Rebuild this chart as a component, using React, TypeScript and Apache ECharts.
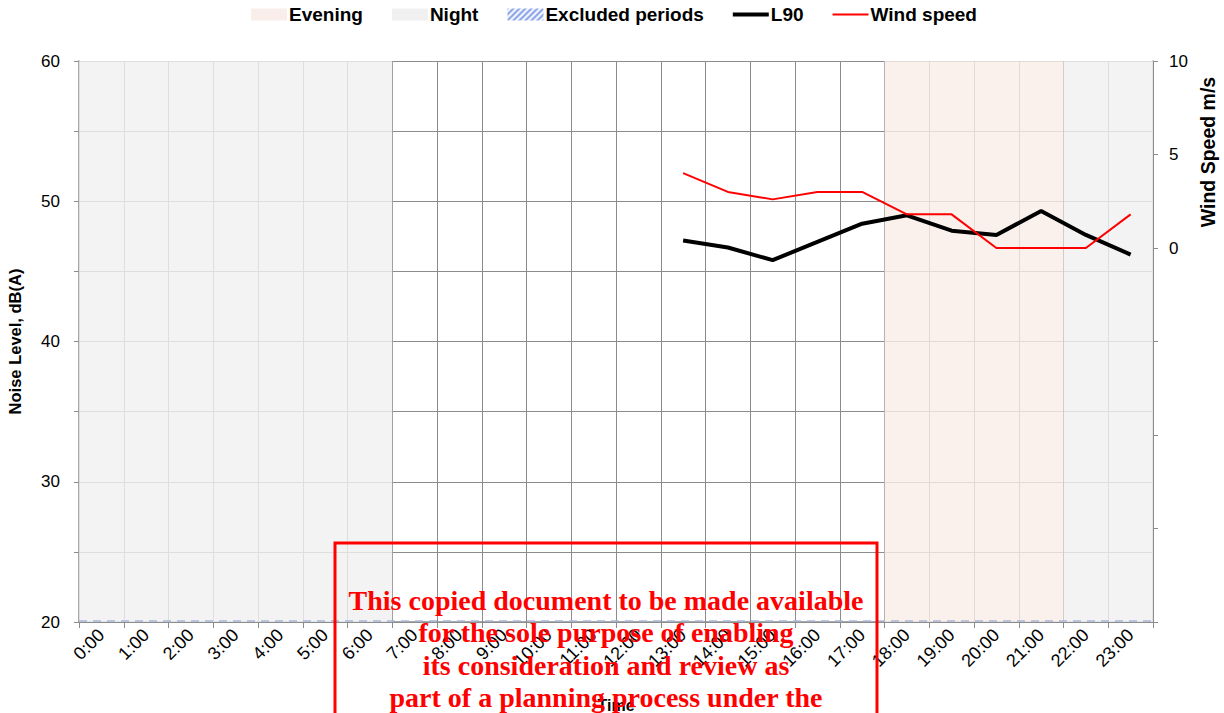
import React, { useEffect, useRef } from "react";
import * as echarts from "echarts";

const hours = [
  "0:00", "1:00", "2:00", "3:00", "4:00", "5:00", "6:00", "7:00", "8:00", "9:00", "10:00", "11:00",
  "12:00", "13:00", "14:00", "15:00", "16:00", "17:00", "18:00", "19:00", "20:00", "21:00", "22:00", "23:00",
];
const l90 = [
  null, null, null, null, null, null, null, null, null, null, null, null,
  null, 47.2, 46.7, 45.8, 47.1, 48.4, 49.0, 47.9, 47.6, 49.3, 47.6, 46.2,
];
const windSpeed = [
  null, null, null, null, null, null, null, null, null, null, null, null,
  null, 4.0, 3.0, 2.6, 3.0, 3.0, 1.8, 1.8, 0, 0, 0, 1.8,
];
const nightPeriods = [[0, 7], [22, 24]];
const eveningPeriods = [[18, 22]];
const leftTicks = [20, 30, 40, 50, 60];
const rightTicks = [0, 5, 10];
const watermarkLines = [
  "This copied document to be made available",
  "for the sole purpose of enabling",
  "its consideration and review as",
  "part of a planning process under the",
];

function makeHatch(): any {
  const c = document.createElement("canvas");
  c.width = 6;
  c.height = 6;
  const ctx = c.getContext("2d");
  if (ctx) {
    ctx.fillStyle = "#ffffff";
    ctx.fillRect(0, 0, 6, 6);
    ctx.strokeStyle = "#7f9be6";
    ctx.lineWidth = 2;
    ctx.beginPath();
    ctx.moveTo(-1, 7);
    ctx.lineTo(7, -1);
    ctx.moveTo(-4, 4);
    ctx.lineTo(4, -4);
    ctx.moveTo(2, 10);
    ctx.lineTo(10, 2);
    ctx.stroke();
  }
  return { image: c, repeat: "repeat" };
}

const thickLineIcon = "path://M0,0h36v0.01h-36z M0,4h36v4h-36z M0,12h36v0.01h-36z";
const thinLineIcon = "path://M0,0h36v0.01h-36z M0,5h36v2h-36z M0,12h36v0.01h-36z";

export default function App() {
  const ref = useRef<HTMLDivElement>(null);
  useEffect(() => {
    if (!ref.current) return;
    const chart = echarts.init(ref.current, undefined, { renderer: "svg" });
    const axisGray = "#8c8c8c";
    const font = "Liberation Sans, Arial, sans-serif";
    const option: any = {
      animation: false,
      backgroundColor: "#ffffff",
      textStyle: { fontFamily: font },
      legend: {
        top: 5,
        left: 251,
        padding: 0,
        itemGap: 29,
        itemWidth: 36,
        itemHeight: 12,
        textStyle: { fontSize: 19, fontWeight: "bold", color: "#000", fontFamily: font, padding: [0, 0, 0, -3] },
        data: [
          { name: "Evening", icon: "rect" },
          { name: "Night", icon: "rect" },
          { name: "Excluded periods", icon: "rect" },
          { name: "L90", icon: thickLineIcon },
          { name: "Wind speed", icon: thinLineIcon },
        ],
      },
      grid: { left: 79, right: 71, top: 61, bottom: 91, outerBoundsMode: "none", containLabel: false },
      xAxis: [
        {
          type: "category",
          data: hours,
          boundaryGap: true,
          name: "Time",
          nameLocation: "middle",
          nameGap: 75,
          nameTextStyle: { fontSize: 16, fontWeight: "bold", color: "#000" },
          axisLine: { onZero: false, lineStyle: { color: axisGray, width: 1.5 } },
          axisTick: { show: true, length: 6, alignWithLabel: false, lineStyle: { color: axisGray } },
          axisLabel: { rotate: 45, fontSize: 18, color: "#000", margin: 10, interval: 0 },
          splitLine: { show: true, interval: 0, lineStyle: { color: axisGray, width: 1 } },
        },
        { type: "value", min: 0, max: 24, show: false, axisLine: { onZero: false } },
      ],
      yAxis: [
        {
          type: "value",
          min: 20,
          max: 60,
          interval: 5,
          name: "Noise Level, dB(A)",
          nameLocation: "middle",
          nameGap: 56,
          nameRotate: 90,
          nameTextStyle: { fontSize: 16.5, fontWeight: "bold", color: "#000" },
          axisLine: { show: true, onZero: false, lineStyle: { color: axisGray, width: 1.5 } },
          axisTick: { show: true, length: 5, lineStyle: { color: axisGray } },
          axisLabel: {
            fontSize: 17,
            color: "#000",
            margin: 19,
            formatter: (v: number) => (leftTicks.includes(v) ? String(v) : ""),
          },
          splitLine: { show: true, lineStyle: { color: axisGray, width: 1 } },
        },
        {
          type: "value",
          min: -20,
          max: 10,
          interval: 5,
          position: "right",
          axisLine: { show: true, onZero: false, lineStyle: { color: axisGray, width: 1.5 } },
          axisTick: { show: true, length: 5, lineStyle: { color: axisGray } },
          axisLabel: {
            fontSize: 17,
            color: "#000",
            margin: 16,
            formatter: (v: number) => (rightTicks.includes(v) ? String(v) : ""),
          },
          splitLine: { show: false },
        },
      ],
      series: [
        {
          name: "Evening",
          type: "bar",
          xAxisIndex: 1,
          yAxisIndex: 0,
          data: [],
          z: 1,
          itemStyle: { color: "#f9eee9" },
          markArea: {
            silent: true,
            label: { show: false },
            itemStyle: { color: "rgba(249,237,231,0.8)" },
            data: eveningPeriods.map((p) => [{ xAxis: p[0] }, { xAxis: p[1] }]),
          },
        },
        {
          name: "Night",
          type: "bar",
          xAxisIndex: 1,
          yAxisIndex: 0,
          data: [],
          z: 1,
          itemStyle: { color: "#f0f0f0" },
          markArea: {
            silent: true,
            label: { show: false },
            itemStyle: { color: "rgba(240,240,240,0.82)" },
            data: nightPeriods.map((p) => [{ xAxis: p[0] }, { xAxis: p[1] }]),
          },
        },
        {
          name: "Excluded periods",
          type: "bar",
          xAxisIndex: 1,
          yAxisIndex: 0,
          data: [],
          z: 2,
          itemStyle: { color: makeHatch() },
          markLine: {
            silent: true,
            symbol: "none",
            label: { show: false },
            lineStyle: { color: "#a9b6d9", type: [8, 6], width: 1.5 },
            data: [{ yAxis: 20.1 }],
          },
        },
        {
          name: "L90",
          type: "line",
          xAxisIndex: 0,
          yAxisIndex: 0,
          data: l90,
          symbol: "none",
          z: 4,
          lineStyle: { color: "#000000", width: 4 },
          itemStyle: { color: "#000000" },
        },
        {
          name: "Wind speed",
          type: "line",
          xAxisIndex: 0,
          yAxisIndex: 1,
          data: windSpeed,
          symbol: "none",
          z: 5,
          lineStyle: { color: "#ff0000", width: 2 },
          itemStyle: { color: "#ff0000" },
        },
      ],
      graphic: [
        {
          type: "text",
          x: 1208,
          y: 152,
          rotation: Math.PI / 2,
          style: {
            text: "Wind Speed m/s",
            font: "bold 19.5px " + font,
            fill: "#000",
            textAlign: "center",
            textVerticalAlign: "middle",
          },
          z: 10,
        },
        {
          type: "rect",
          shape: { x: 335, y: 543, width: 542, height: 200 },
          style: { fill: "none", stroke: "#ff0000", lineWidth: 3 },
          z: 20,
        },
        {
          type: "text",
          x: 606,
          y: 584,
          style: {
            text: watermarkLines.join("\n"),
            font: 'bold 28px "Liberation Serif", "Times New Roman", serif',
            fill: "#ff0000",
            textAlign: "center",
            lineHeight: 32.5,
          },
          z: 21,
        },
      ],
    };
    chart.setOption(option);
    return () => chart.dispose();
  }, []);
  return <div ref={ref} style={{ width: 1224, height: 713, position: "absolute", left: 0, top: 0 }} />;
}
